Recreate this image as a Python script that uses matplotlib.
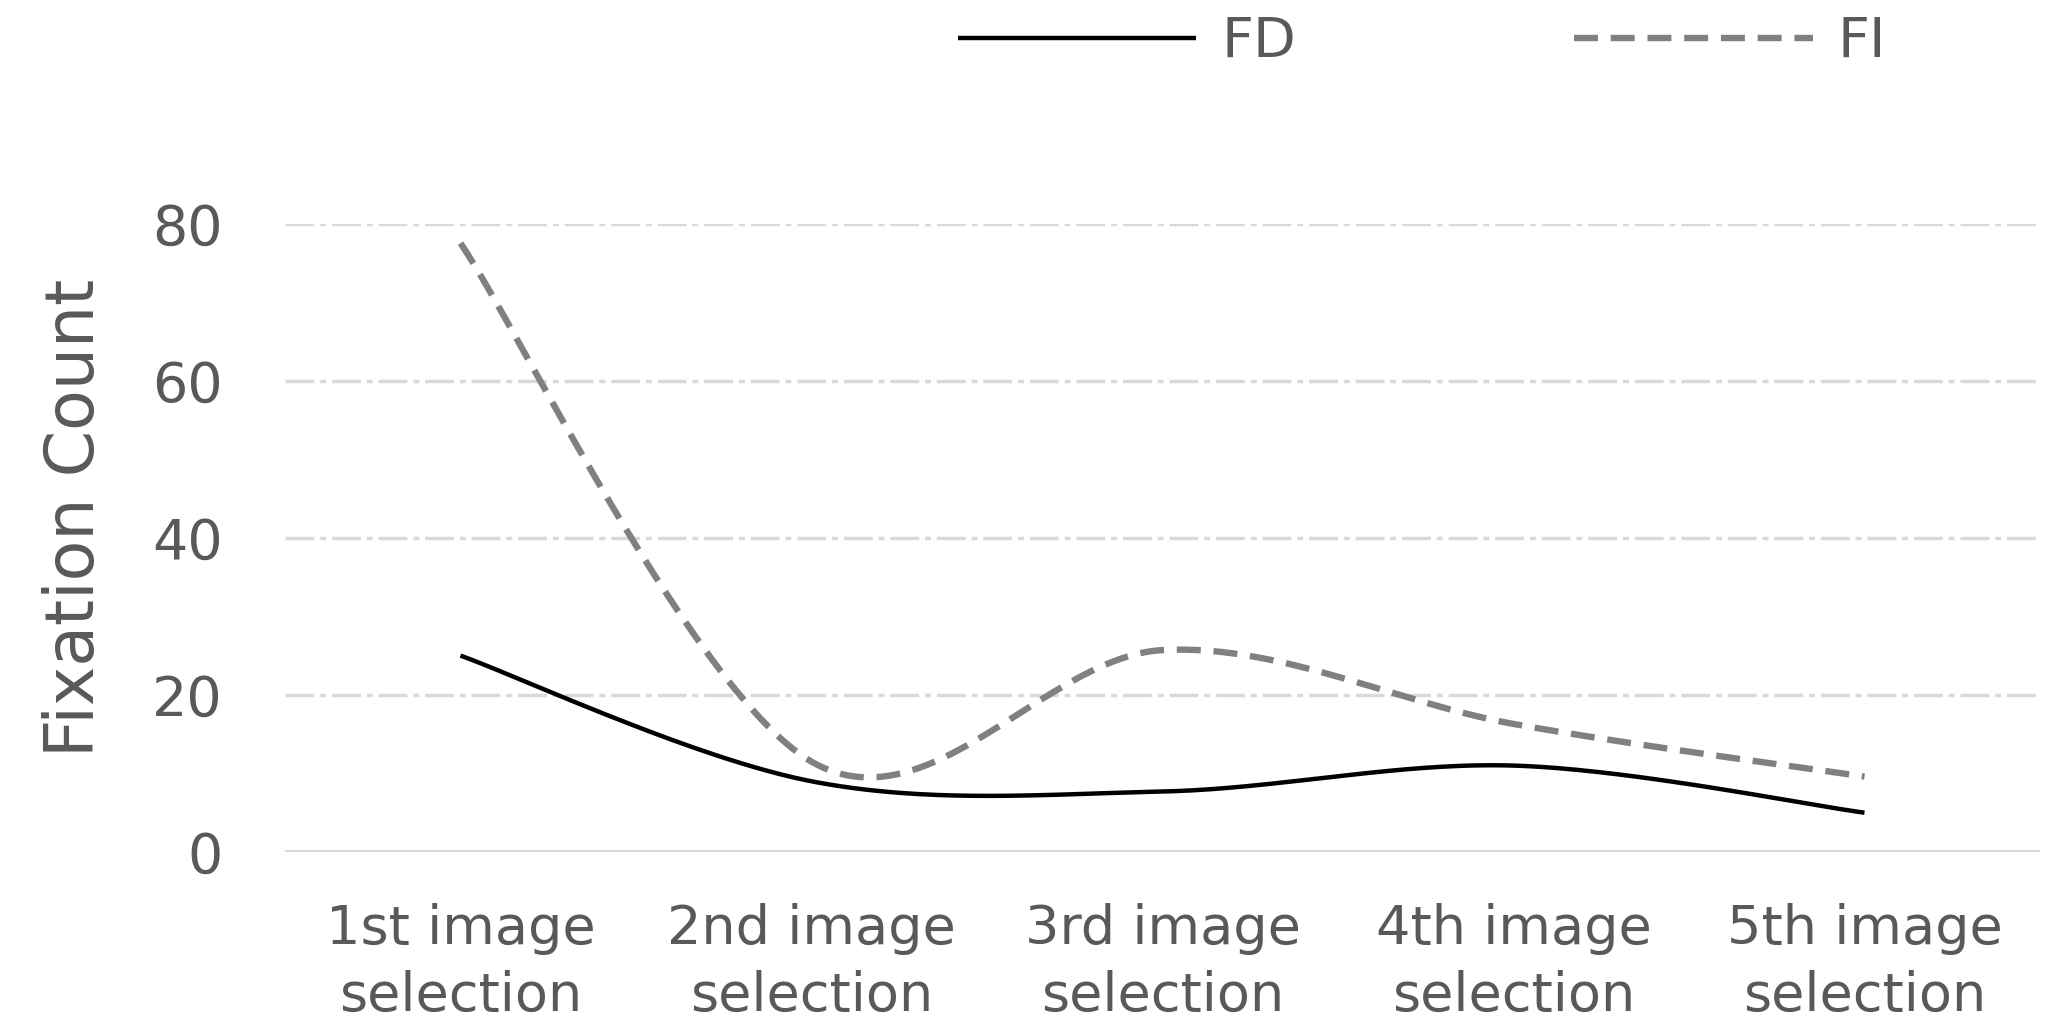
import numpy as np
import matplotlib
matplotlib.use("Agg")
import matplotlib.pyplot as plt

categories = ["1st image\nselection", "2nd image\nselection", "3rd image\nselection",
              "4th image\nselection", "5th image\nselection"]
fd_values = [25, 9, 7.7, 11, 5]
fi_values = [77.5, 11.5, 25.7, 16.3, 9.6]
yticks = [0, 20, 40, 60, 80]

plt.rcParams['font.family'] = ['DejaVu Sans']

def smooth(xs, ys, n=60):
    xs = np.asarray(xs, float); ys = np.asarray(ys, float)
    px = np.concatenate([[xs[0]], xs, [xs[-1]]])
    py = np.concatenate([[ys[0]], ys, [ys[-1]]])
    ox, oy = [], []
    t = np.linspace(0, 1, n)
    for i in range(1, len(px) - 2):
        p0 = np.array([px[i], py[i]]); p3 = np.array([px[i+1], py[i+1]])
        c1 = p0 + (np.array([px[i+1], py[i+1]]) - np.array([px[i-1], py[i-1]])) / 6
        c2 = p3 - (np.array([px[i+2], py[i+2]]) - np.array([px[i], py[i]])) / 6
        b = ((1-t)**3)[:, None]*p0 + (3*(1-t)**2*t)[:, None]*c1 + (3*(1-t)*t**2)[:, None]*c2 + (t**3)[:, None]*p3
        ox.extend(b[:, 0]); oy.extend(b[:, 1])
    return np.array(ox), np.array(oy)

W, H = 2049, 1017
fig = plt.figure(figsize=(W/100, H/100), dpi=100)
ax_l, ax_r, ax_b, ax_t = 285, 2040, 852, 223.5
ax = fig.add_axes([ax_l/W, 1 - ax_b/H, (ax_r-ax_l)/W, (ax_b-ax_t)/H])

x = np.arange(len(categories))
for v in yticks[1:]:
    ax.axhline(v, color='#d9d9d9', lw=2.5, dashes=(8.3, 1.7, 1.7, 1.7), zorder=0)
ax.axhline(0, color='#d9d9d9', lw=3.0, zorder=0)

sx, sy = smooth(x, fd_values)
ax.plot(sx, sy, color='black', lw=3.2, label='FD', solid_capstyle='butt')
sx, sy = smooth(x, fi_values)
ax.plot(sx, sy, color='#808080', lw=4.6, dashes=(3.75, 2.0), label='FI')

ax.set_xlim(-0.5, len(categories) - 0.5)
ax.set_ylim(0, 80)
ax.set_yticks(yticks)
ax.set_xticks(x)
ax.set_xticklabels(categories, fontsize=39, color='#595959', linespacing=1.36)
ax.tick_params(axis='y', labelsize=40, labelcolor='#595959', length=0, pad=45)
ax.tick_params(axis='x', length=0, pad=37)
for s in ax.spines.values():
    s.set_visible(False)
ax.set_ylabel('Fixation Count', fontsize=48, color='#595959')
ax.yaxis.label.set_va('center')
ax.yaxis.set_label_coords((75 - ax_l)/(ax_r - ax_l), 0.532)

leg = fig.legend(loc='center', bbox_to_anchor=(1422/W, 1 - 42/H), ncol=2, frameon=False,
                 fontsize=40, handlelength=4.3, columnspacing=5.0, handletextpad=0.45,
                 labelcolor='#595959', borderpad=0, borderaxespad=0)

fig.savefig('out.png', dpi=100)
